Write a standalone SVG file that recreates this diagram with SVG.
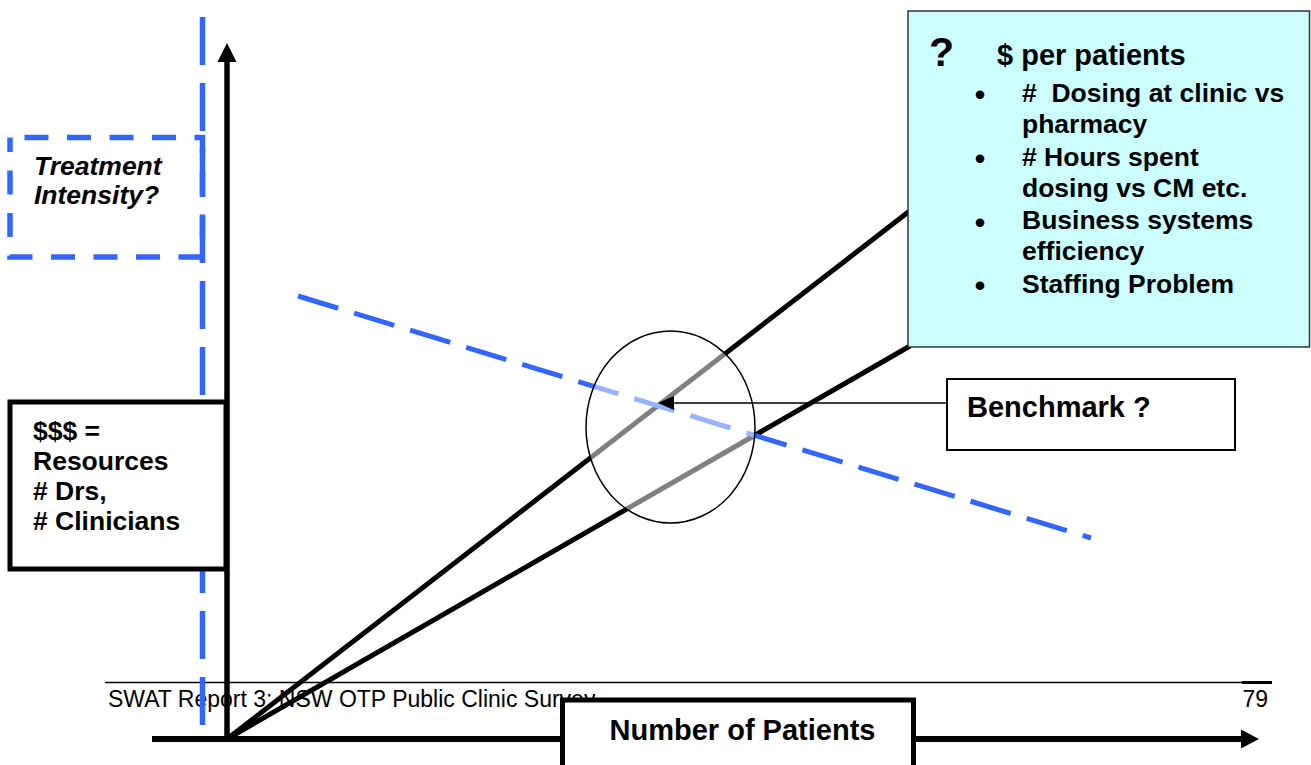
<svg xmlns="http://www.w3.org/2000/svg" width="1311" height="765" viewBox="0 0 1311 765">
  <style>
    .b { font-family: "Liberation Sans", Arial, sans-serif; font-weight: bold; fill: #000; }
    .r { font-family: "Liberation Sans", Arial, sans-serif; fill: #000; }
    .pre { white-space: pre; }
    .blue { stroke: #3366FF; fill: none; }
    .blk { stroke: #000; fill: none; }
  </style>
  <rect width="1311" height="765" fill="#fff"/>

  <g id="footer">
    <line x1="105" y1="682.5" x2="1244" y2="682.5" stroke="#000" stroke-width="1.5"/>
    <line x1="1242" y1="682.5" x2="1272" y2="682.5" stroke="#000" stroke-width="3"/>
    <text class="r" x="108" y="707" font-size="23">SWAT Report 3: NSW OTP Public Clinic Survey</text>
    <text class="r" x="1268" y="707" font-size="23" text-anchor="end">79</text>
  </g>

  <g id="connectors">
    <line id="intensity-line" class="blue" x1="202.5" y1="17" x2="202.5" y2="725" stroke-width="5.5" stroke-dasharray="48 18"/>
    <line id="y-axis" class="blk" x1="227" y1="60" x2="227" y2="741" stroke-width="5.5"/>
    <polygon points="227,43 217.5,62 236.5,62" fill="#000"/>
    <line id="x-axis" class="blk" x1="152" y1="739" x2="1243" y2="739" stroke-width="6"/>
    <polygon points="1259,739 1241,729.5 1241,748.5" fill="#000"/>
    <line id="line-upper" class="blk" x1="227" y1="739" x2="960" y2="172" stroke-width="5"/>
    <line id="line-lower" class="blk" x1="227" y1="739" x2="910" y2="346" stroke-width="5"/>
    <line id="benchmark-line" class="blue" x1="298" y1="296" x2="1091" y2="538" stroke-width="5" stroke-dasharray="42 16.6"/>
  </g>

  <g id="treatment-intensity">
    <rect x="10" y="137.5" width="192.5" height="119.5" class="blue" stroke-width="5.5" stroke-dasharray="24 18.5" stroke-dashoffset="28"/>
    <text class="b" x="34" y="175" font-size="26.5" font-style="italic">Treatment</text>
    <text class="b" x="34" y="204" font-size="26.5" font-style="italic">Intensity?</text>
  </g>

  <g id="focus-ellipse">
    <ellipse cx="670.5" cy="427" rx="84.5" ry="96" fill="#fff" fill-opacity="0.5" stroke="#000" stroke-width="1.5"/>
  </g>

  <g id="benchmark">
    <line x1="947" y1="403" x2="672" y2="403" stroke="#000" stroke-width="1.5"/>
    <polygon points="658,403 674,396 674,410" fill="#000"/>
    <rect x="947" y="379" width="288" height="71" fill="#fff" stroke="#000" stroke-width="2"/>
    <text class="b" x="967" y="417" font-size="29">Benchmark ?</text>
  </g>

  <g id="cost-box">
    <rect x="908" y="11" width="401.5" height="336" fill="#CCFFFF" stroke="#333" stroke-width="1.5"/>
    <text class="b" x="929" y="66" font-size="41">?</text>
    <text class="b" x="997" y="65" font-size="29">$ per patients</text>
    <g font-size="30" class="b" text-anchor="middle">
      <text class="b" x="980" y="105">•</text>
      <text class="b" x="980" y="169">•</text>
      <text class="b" x="980" y="233">•</text>
      <text class="b" x="980" y="296">•</text>
    </g>
    <text class="b pre" x="1022" y="102" font-size="26.5">#  Dosing at clinic vs</text>
    <text class="b" x="1022" y="133" font-size="26.5">pharmacy</text>
    <text class="b" x="1022" y="166" font-size="26.5"># Hours spent</text>
    <text class="b" x="1022" y="197" font-size="26.5">dosing vs CM etc.</text>
    <text class="b" x="1022" y="229" font-size="26.5">Business systems</text>
    <text class="b" x="1022" y="260" font-size="26.5">efficiency</text>
    <text class="b" x="1022" y="293" font-size="26.5">Staffing Problem</text>
  </g>

  <g id="resources">
    <rect x="10" y="402" width="216" height="167" fill="#fff" stroke="#000" stroke-width="5"/>
    <text class="b" x="33" y="440" font-size="26.5">$$$ =</text>
    <text class="b" x="33" y="470" font-size="26.5">Resources</text>
    <text class="b" x="33" y="500" font-size="26.5"># Drs,</text>
    <text class="b" x="33" y="530" font-size="26.5"># Clinicians</text>
  </g>

  <g id="patients">
    <rect x="562.5" y="700" width="351" height="100" fill="#fff" stroke="#000" stroke-width="5"/>
    <text class="b" x="742.5" y="740" font-size="29" text-anchor="middle">Number of Patients</text>
  </g>
</svg>
